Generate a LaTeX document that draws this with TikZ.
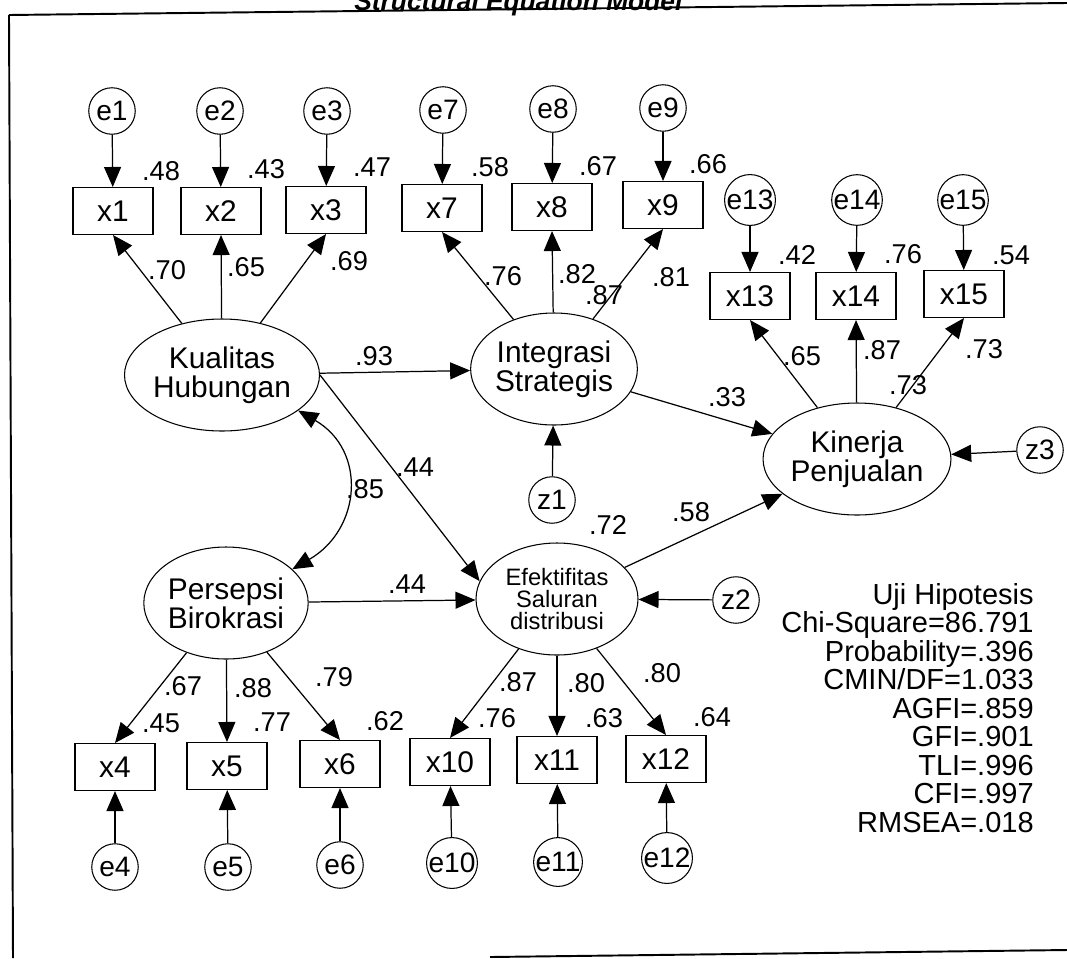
\documentclass[tikz,border=0pt]{standalone}
\usepackage{fontspec}
\setmainfont{Liberation Sans}
\usetikzlibrary{shapes.geometric,arrows.meta}

\begin{document}
\begin{tikzpicture}[
  x=0.2mm, y=-0.2mm,
  every node/.style={font=\fontsize{17}{16.5}\selectfont},
  obs/.style={rectangle, draw, line width=0.6pt, minimum width=16mm, minimum height=9.4mm, inner sep=0pt},
  lat/.style={ellipse, draw, line width=0.6pt, minimum width=32.4mm, minimum height=22.4mm, inner sep=0pt, align=center},
  err/.style={circle, draw, line width=0.6pt, minimum size=9.3mm, inner sep=0pt, font=\fontsize{16}{16}\selectfont},
  lbl/.style={inner sep=0pt, font=\fontsize{15.5}{15.5}\selectfont},
  arr/.style={draw, line width=0.7pt, -{Triangle[length=4mm, width=3.4mm]}},
  cov/.style={draw, line width=0.7pt, {Triangle[length=4mm, width=3.4mm]}-{Triangle[length=4mm, width=3.4mm]}},
  frame/.style={draw, line width=1.1pt},
  title/.style={inner sep=0pt, font=\fontsize{15}{15}\selectfont\bfseries\itshape},
  stats/.style={inner sep=0pt, align=right, font=\fontsize{16.5}{16.2}\selectfont}
]
\useasboundingbox (0,0) rectangle (1067,958);
\clip (0,0) rectangle (1067,958);

% frame and cut title
\node[title, anchor=base west] (ttl) at (354,10) {Structural Equation Model};
\draw[frame] (9,15) -- (1067,3);
\draw[frame] (9,15) -- (13,958);
\draw[frame] (490,957) -- (1067,950);

% latent variables
\node[lat] (kh) at (222,375) {Kualitas\\Hubungan};
\node[lat] (ints) at (554,369) {Integrasi\\Strategis};
\node[lat] (kp) at (857,459) {Kinerja\\Penjualan};
\node[lat] (pb) at (226,603) {Persepsi\\Birokrasi};
\node[lat, font=\fontsize{13.5}{12.6}\selectfont] (esd) at (557,599) {Efektifitas\\Saluran\\distribusi};

% indicators
\foreach \i/\px/\py in {1/113/211, 2/221/211, 3/326/210, 7/442/208, 8/552/207, 9/663/205,
  13/750/296, 14/856/296, 15/964/294, 4/115/767, 5/227/766, 6/340/764,
  10/450/762, 11/557/760, 12/666/759}
  \node[obs] (x\i) at (\px,\py) {x\i};

% errors and disturbances
\foreach \i/\px/\py in {1/112/111, 2/220/111, 3/327/111, 7/443/110, 8/553/109, 9/663/108,
  13/750/200, 14/857/200, 15/963/200, 4/115/867, 5/228/867, 6/340/865,
  10/452/863, 11/558/862, 12/667/858}
  \node[err] (e\i) at (\px,\py) {e\i};
\node[err] (z1) at (552,500) {z1};
\node[err] (z2) at (736,600) {z2};
\node[err] (z3) at (1040,450) {z3};

% error paths
\foreach \i in {1,2,3,7,8,9,13,14,15,4,5,6,10,11,12}
  \draw[arr] (e\i) -- (x\i);

% loadings
\foreach \f/\i in {kh/1, kh/2, kh/3, ints/7, ints/8, ints/9, kp/13, kp/14, kp/15}
  \draw[arr] (\f) -- (x\i.south);
\foreach \f/\i in {pb/4, pb/5, pb/6, esd/10, esd/11, esd/12}
  \draw[arr] (\f) -- (x\i.north);

% structural paths
\draw[arr] (kh) -- (ints);
\draw[arr] (kh.east) -- (esd.167);
\draw[arr] (ints) -- (kp);
\draw[arr] (esd) -- (kp);
\draw[arr] (pb) -- (esd);
\draw[arr] (z1) -- (ints);
\draw[arr] (z2) -- (esd);
\draw[arr] (z3) -- (kp);
\draw[cov] (kh.-25) .. controls +(69,40) and +(69,-40) .. (pb.27);

% estimates
\foreach \nm/\px/\py/\val in {r1/161/171/.48, r2/266/169/.43, r3/372/167/.47,
  r7/490/167/.58, r8/598/166/.67, r9/708/164/.66,
  r13/797/255/.42, r14/903/254/.76, r15/1011/255/.54,
  r4/161/723/.45, r5/272/722/.77, r6/385/721/.62,
  r10/497/718/.76, r11/604/718/.63, r12/712/717/.64,
  l1/167/270/.70, l2/246/267/.65, l3/349/261/.69,
  l7/503/276/.76, l8/577/274/.82, l9/671/277/.81,
  l13/802/356/.65, l14/882/350/.87, l15/984/349/.73,
  l4/183/686/.67, l5/253/688/.88, l6/334/677/.79,
  l10/518/682/.87, l11/586/683/.80, l12/662/673/.80,
  s1/374/356/.93, s2/415/467/.44, s3/407/584/.44, s4/727/397/.33,
  s5/691/512/.58, s6/365/489/.85,
  q1/604/295/.87, q2/908/385/.73, q3/608/525/.72}
  \node[lbl] (\nm) at (\px,\py) {\val};

% fit indices
\node[stats, anchor=east] (fit) at (1034,708) {Uji Hipotesis\\Chi-Square=86.791\\Probability=.396\\CMIN/DF=1.033\\AGFI=.859\\GFI=.901\\TLI=.996\\CFI=.997\\RMSEA=.018};
\end{tikzpicture}
\end{document}
